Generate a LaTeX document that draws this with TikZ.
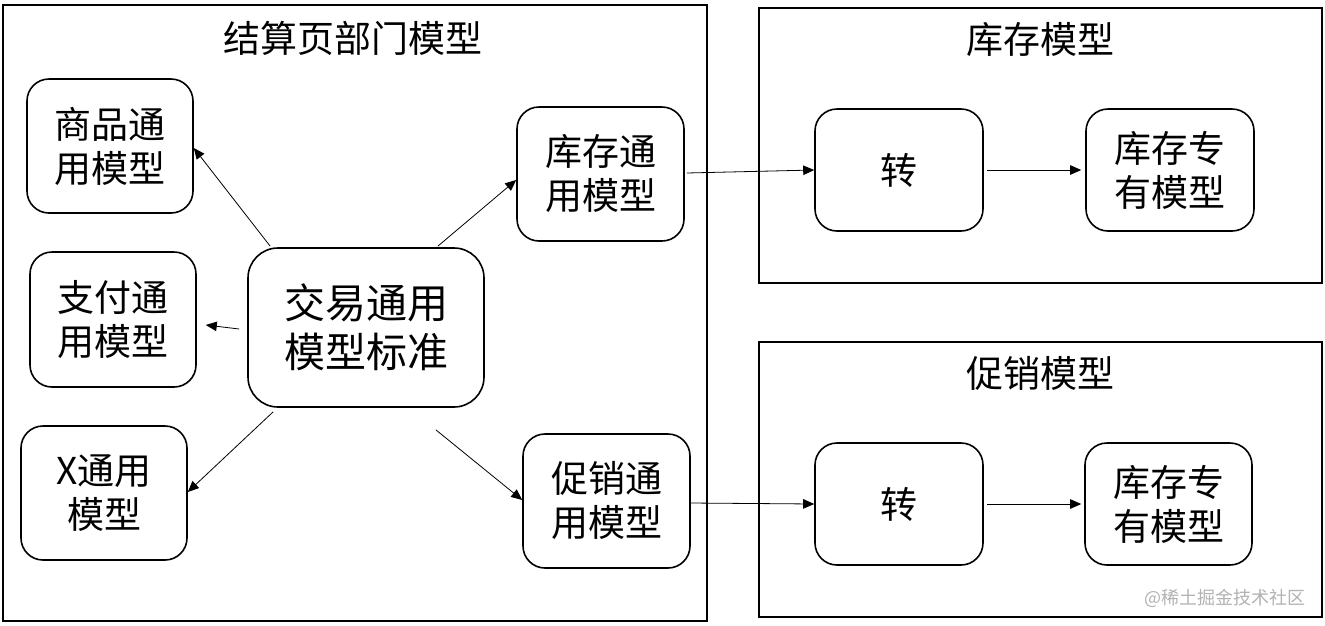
\documentclass[tikz,border=0pt]{standalone}
\usepackage{fontspec}
\setmainfont{Noto Sans CJK SC}
\usetikzlibrary{arrows.meta}
\tikzset{
  outerbox/.style={draw, line width=1.6pt},
  rbox/.style={draw, line width=1.6pt, rounded corners=22pt, align=center, inner sep=0pt,
    minimum width=#1, font=\fontsize{37}{44}\selectfont},
  rbox/.default=166pt,
  ttl/.style={font=\fontsize{37}{44}\selectfont, inner sep=0pt},
  arr/.style={line width=0.8pt, -{Triangle[length=11pt,width=9.5pt]}},
}
\begin{document}
\begin{tikzpicture}[x=1pt,y=-1pt]
\useasboundingbox[fill=white] (0,0) rectangle (1325,625);
% outer boxes
\draw[outerbox] (3,5) rectangle (707,621);
\draw[outerbox] (759,8) rectangle (1322,283);
\draw[outerbox] (759,342) rectangle (1322,617);
\node[ttl] (tl) at (353,38) {结算页部门模型};
\node[ttl] (tr1) at (1040,40) {库存模型};
\node[ttl] (tr2) at (1040,373) {促销模型};
% left nodes
\node[rbox, minimum height=134pt] (shop) at (110,146) {商品通\\用模型};
\node[rbox, minimum height=135pt] (pay) at (113,319.5) {支付通\\用模型};
\node[rbox, minimum height=134pt] (xm) at (104,493) {X通用\\模型};
\node[rbox=236pt, minimum height=159pt, rounded corners=30pt, font=\fontsize{41}{49}\selectfont] (std) at (366,327.5) {交易通用\\模型标准};
\node[rbox=167pt, minimum height=134pt] (inv) at (600.5,174) {库存通\\用模型};
\node[rbox=167pt, minimum height=134pt] (promo) at (606.5,501) {促销通\\用模型};
% right nodes
\node[rbox=168pt, minimum height=122pt] (t1) at (899,170) {转};
\node[rbox=168pt, minimum height=122pt] (s1) at (1170,170) {库存专\\有模型};
\node[rbox=168pt, minimum height=122pt] (t2) at (899,504) {转};
\node[rbox=167pt, minimum height=122pt] (s2) at (1168.5,504) {库存专\\有模型};
% watermark
\node[inner sep=0pt, text=black!30, font=\fontsize{18}{20}\selectfont] (wm) at (1225,598) {@稀土掘金技术社区};
% connector start points
\coordinate (a1) at ([shift={(23,-1)}]std.north west);
\coordinate (a2) at ([shift={(-8,1.5)}]std.west);
\coordinate (a3) at ([shift={(26,4)}]std.south west);
\coordinate (a4) at ([shift={(-47,-1)}]std.north east);
\coordinate (a5) at ([shift={(-49,22)}]std.south east);
\coordinate (a6) at ([shift={(2,-1)}]inv.east);
\coordinate (a7) at ([shift={(0,2)}]promo.east);
\coordinate (a8) at ([shift={(3,0)}]t1.east);
\coordinate (a9) at ([shift={(3,0)}]t2.east);
% connectors
\draw[arr] (a1) -- ([shift={(0,2)}]shop.east);
\draw[arr] (a2) -- ([shift={(9,5.5)}]pay.east);
\draw[arr] (a3) -- ([shift={(0,-1)}]xm.east);
\draw[arr] (a4) -- ([shift={(0,6)}]inv.west);
\draw[arr] (a5) -- ([shift={(0,-1)}]promo.west);
\draw[arr] (a6) -- (t1.west);
\draw[arr] (a7) -- (t2.west);
\draw[arr] (a8) -- ([shift={(-4,0)}]s1.west);
\draw[arr] (a9) -- ([shift={(-3,0)}]s2.west);
\end{tikzpicture}
\end{document}
